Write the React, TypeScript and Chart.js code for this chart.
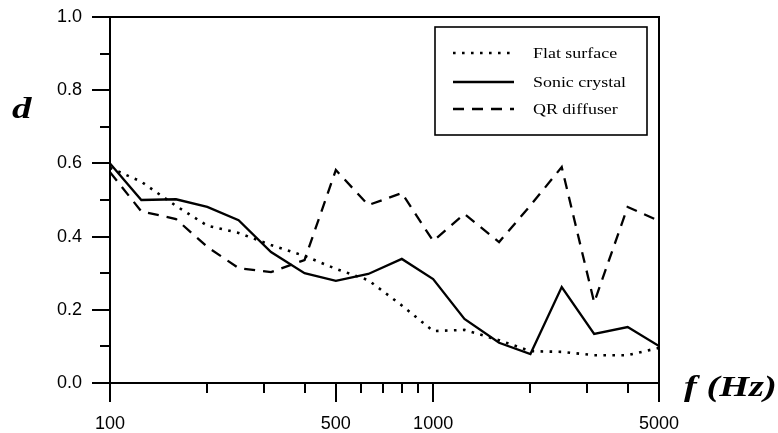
import React, { useEffect, useRef } from 'react';
import { Chart, registerables } from 'chart.js';

Chart.register(...registerables);

const frequencies = [100, 125, 160, 200, 250, 315, 400, 500, 630, 800, 1000, 1250, 1600, 2000, 2500, 3150, 4000, 5000];
const flatSurface = [0.588, 0.55, 0.484, 0.43, 0.41, 0.377, 0.347, 0.312, 0.281, 0.212, 0.142, 0.145, 0.117, 0.087, 0.085, 0.076, 0.076, 0.096];
const sonicCrystal = [0.6, 0.5, 0.502, 0.481, 0.445, 0.358, 0.3, 0.279, 0.298, 0.339, 0.284, 0.175, 0.11, 0.079, 0.262, 0.134, 0.153, 0.101];
const qrDiffuser = [0.576, 0.469, 0.448, 0.372, 0.314, 0.303, 0.336, 0.582, 0.486, 0.519, 0.388, 0.462, 0.385, 0.485, 0.59, 0.22, 0.481, 0.443];
const seriesLabels = ['Flat surface', 'Sonic crystal', 'QR diffuser'];
const xMajorTicks = [100, 500, 1000, 5000];
const xMinorTicks = [200, 300, 400, 600, 700, 800, 900, 2000, 3000, 4000];
const yMajorTicks = [0, 0.2, 0.4, 0.6, 0.8, 1.0];
const yMinorTicks = [0.1, 0.3, 0.5, 0.7, 0.9];
const yTitle = 'd';
const xTitle = 'f (Hz)';

const dotDash = [2.6, 6.4];
const longDash = [11, 8];

const framePlugin = {
  id: 'frameTicksLegend',
  afterDraw(chart: any) {
    const { ctx, chartArea: ca, scales } = chart;
    const xs = scales.x;
    const ys = scales.y;
    ctx.save();
    ctx.strokeStyle = '#000';
    ctx.lineWidth = 2;
    ctx.setLineDash([]);
    ctx.strokeRect(ca.left, ca.top, ca.right - ca.left, ca.bottom - ca.top);
    ctx.beginPath();
    for (const v of xMajorTicks) {
      const px = Math.round(xs.getPixelForValue(v));
      ctx.moveTo(px, ca.bottom);
      ctx.lineTo(px, ca.bottom + 19);
    }
    for (const v of xMinorTicks) {
      const px = Math.round(xs.getPixelForValue(v));
      ctx.moveTo(px, ca.bottom);
      ctx.lineTo(px, ca.bottom + 10);
    }
    for (const v of yMajorTicks) {
      const py = Math.round(ys.getPixelForValue(v));
      ctx.moveTo(ca.left, py);
      ctx.lineTo(ca.left - 18, py);
    }
    for (const v of yMinorTicks) {
      const py = Math.round(ys.getPixelForValue(v));
      ctx.moveTo(ca.left, py);
      ctx.lineTo(ca.left - 10, py);
    }
    ctx.stroke();

    // axis titles (horizontally stretched like the reference)
    ctx.fillStyle = '#000';
    ctx.font = 'italic bold 30px "Liberation Serif", "Times New Roman", serif';
    ctx.textBaseline = 'alphabetic';
    ctx.textAlign = 'left';
    ctx.save();
    ctx.translate(12, 118);
    ctx.scale(1.3, 1);
    ctx.fillText(yTitle, 0, 0);
    ctx.restore();
    ctx.save();
    ctx.translate(684, 396);
    ctx.scale(1.28, 1);
    ctx.fillText(xTitle, 0, 0);
    ctx.restore();

    // legend
    const bx0 = ca.right - 224;
    const bx1 = ca.right - 12;
    const by0 = ca.top + 10;
    const by1 = ca.top + 118;
    ctx.lineWidth = 1.6;
    ctx.strokeRect(bx0, by0, bx1 - bx0, by1 - by0);
    const rows = [ca.top + 36, ca.top + 65, ca.top + 92];
    const dashes = [dotDash, [], longDash];
    ctx.font = '14px "Liberation Serif", "Times New Roman", serif';
    for (let i = 0; i < 3; i++) {
      ctx.lineWidth = 2.4;
      ctx.setLineDash(dashes[i]);
      ctx.beginPath();
      ctx.moveTo(bx0 + 18, rows[i]);
      ctx.lineTo(bx0 + 79, rows[i]);
      ctx.stroke();
      ctx.setLineDash([]);
      ctx.save();
      ctx.translate(bx0 + 98, rows[i] + 4.5);
      ctx.scale(1.28, 1);
      ctx.fillText(seriesLabels[i], 0, 0);
      ctx.restore();
    }
    ctx.restore();
  },
};

export default function App() {
  const canvasRef = useRef<HTMLCanvasElement | null>(null);

  useEffect(() => {
    if (!canvasRef.current) return;
    const mk = (vals: number[]) => frequencies.map((f, i) => ({ x: f, y: vals[i] }));
    const chart = new Chart(canvasRef.current, {
      type: 'line',
      data: {
        datasets: [
          {
            label: seriesLabels[0],
            data: mk(flatSurface),
            borderColor: '#000',
            borderWidth: 2.6,
            borderDash: dotDash,
            pointRadius: 0,
            tension: 0,
            fill: false,
          },
          {
            label: seriesLabels[1],
            data: mk(sonicCrystal),
            borderColor: '#000',
            borderWidth: 2.3,
            pointRadius: 0,
            tension: 0,
            fill: false,
          },
          {
            label: seriesLabels[2],
            data: mk(qrDiffuser),
            borderColor: '#000',
            borderWidth: 2.3,
            borderDash: longDash,
            pointRadius: 0,
            tension: 0,
            fill: false,
          },
        ],
      },
      options: {
        animation: false,
        responsive: true,
        maintainAspectRatio: false,
        layout: { padding: { left: 0, right: 119, top: 17, bottom: 0 } },
        plugins: {
          legend: { display: false },
          tooltip: { enabled: false },
        },
        scales: {
          x: {
            type: 'logarithmic',
            min: 100,
            max: 5000,
            grid: { display: false, drawTicks: false },
            border: { display: false },
            afterBuildTicks: (scale: any) => {
              scale.ticks = xMajorTicks.map((v) => ({ value: v }));
            },
            afterFit: (scale: any) => {
              scale.height = 50;
              scale.paddingLeft = 0;
              scale.paddingRight = 0;
            },
            ticks: {
              autoSkip: false,
              maxRotation: 0,
              padding: 30,
              color: '#000',
              font: { family: '"Liberation Sans", Arial, sans-serif', size: 18 },
              callback: (v: any) => String(v),
            },
          },
          y: {
            min: 0,
            max: 1,
            grid: { display: false, drawTicks: false },
            border: { display: false },
            afterBuildTicks: (scale: any) => {
              scale.ticks = yMajorTicks.map((v) => ({ value: v }));
            },
            afterFit: (scale: any) => {
              scale.width = 110;
              scale.paddingTop = 0;
              scale.paddingBottom = 0;
            },
            ticks: {
              padding: 28,
              color: '#000',
              font: { family: '"Liberation Sans", Arial, sans-serif', size: 18 },
              callback: (v: any) => Number(v).toFixed(1),
            },
          },
        },
      },
      plugins: [framePlugin],
    });
    return () => chart.destroy();
  }, []);

  return (
    <div style={{ position: 'absolute', left: 0, top: 0, width: 778, height: 433, background: '#fff' }}>
      <canvas ref={canvasRef} />
    </div>
  );
}
